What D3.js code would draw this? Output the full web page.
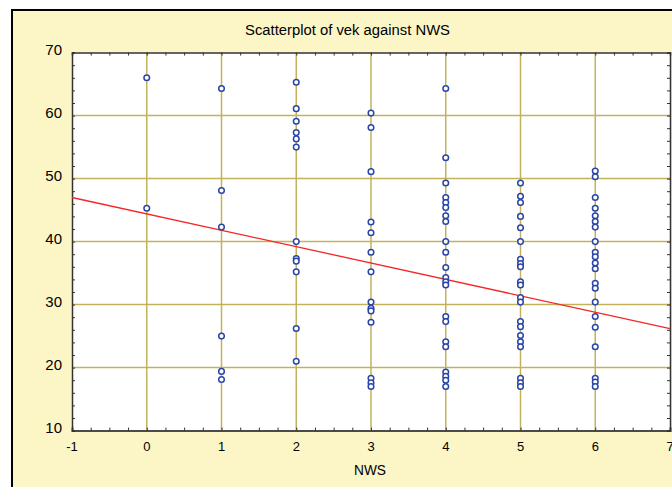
<!DOCTYPE html>
<html>
<head>
<meta charset="utf-8">
<script src="https://cdn.jsdelivr.net/npm/d3@7"></script>
<style>
  body { margin: 0; background: #fff; }
  svg { display: block; font-family: "Liberation Sans", Arial, sans-serif; }
</style>
</head>
<body>
<svg id="chart" width="672" height="487"></svg>
<script>
// values
const nwsLevels = [0, 1, 2, 3, 4, 5, 6];
const vek0 = [66, 45.3];
const vek1 = [64.3, 48.1, 42.3, 25, 19.4, 18.1];
const vek2 = [65.3, 61.1, 59.1, 57.3, 56.3, 55, 40, 37.3, 36.9, 35.2, 26.2, 21];
const vek3 = [60.4, 58.1, 51.1, 43.1, 41.4, 38.3, 35.2, 30.4, 29.4, 29, 27.2, 18.3, 17.6, 17];
const vek4 = [64.3, 53.3, 49.3, 47, 46.2, 45.4, 44.1, 43.2, 40, 38.3, 35.9, 34.3, 33.6, 33.1,
              28.1, 27.3, 24.1, 23.3, 19.3, 18.6, 18, 17];
const vek5 = [49.3, 47.2, 46.2, 44, 42.2, 40, 37.2, 36.5, 36, 33.6, 33.1, 31.1, 30.4,
              27.3, 26.5, 25.1, 24.1, 23.3, 18.3, 17.6, 17];
const vek6 = [51.2, 50.3, 47, 45.3, 44.1, 43.2, 42.3, 40, 38.3, 37.6, 36.6, 35.7, 33.4, 32.6,
              30.4, 28.1, 26.4, 23.3, 18.3, 17.7, 17];
const vekByNws = [vek0, vek1, vek2, vek3, vek4, vek5, vek6];
const fitLine = [{ nws: -1, vek: 47.0 }, { nws: 7, vek: 26.2 }];
const xTicks = [-1, 0, 1, 2, 3, 4, 5, 6, 7];
const yTicks = [10, 20, 30, 40, 50, 60, 70];

const points = [];
nwsLevels.forEach((n, i) => vekByNws[i].forEach((v) => points.push({ nws: n, vek: v })));

const svg = d3.select("#chart");

// panel with black frame
svg.append("rect")
  .attr("x", 12).attr("y", 10)
  .attr("width", 700).attr("height", 500)
  .attr("fill", "#fcf5c6")
  .attr("stroke", "#000")
  .attr("stroke-width", 2);

const pLeft = 72, pRight = 670, pTop = 52.6, pBottom = 430.6;

const xScale = d3.scaleLinear().domain([-1, 7]).range([pLeft, pRight]);
const yScale = d3.scaleLinear().domain([10, 70]).range([pBottom, pTop]);

// plot area
svg.append("rect")
  .attr("x", pLeft).attr("y", pTop)
  .attr("width", pRight - pLeft).attr("height", pBottom - pTop)
  .attr("fill", "#fff");

// grid
const grid = svg.append("g").attr("stroke", "#c2b35a").attr("stroke-width", 1.5);
grid.selectAll(".gx")
  .data(xTicks.slice(1, -1))
  .enter().append("line")
  .attr("x1", (d) => xScale(d)).attr("x2", (d) => xScale(d))
  .attr("y1", pTop).attr("y2", pBottom);
grid.selectAll(".gy")
  .data(yTicks.slice(1, -1))
  .enter().append("line")
  .attr("x1", pLeft).attr("x2", pRight)
  .attr("y1", (d) => yScale(d)).attr("y2", (d) => yScale(d));

// axes (inner ticks)
const xMinor = d3.range(-1, 7.01, 0.25);
const yMinor = d3.range(10, 70.01, 2);

svg.append("g")
  .attr("transform", `translate(0,${pBottom})`)
  .call(d3.axisTop(xScale).tickValues(xMinor).tickSize(3).tickFormat(""))
  .call((g) => g.select(".domain").attr("stroke", "#4a4a4a").attr("stroke-width", 2))
  .call((g) => g.selectAll(".tick line").attr("stroke", "#333"));

svg.append("g")
  .attr("transform", `translate(0,${pTop})`)
  .call(d3.axisBottom(xScale).tickValues(xMinor).tickSize(3).tickFormat(""))
  .call((g) => g.select(".domain").attr("stroke", "#333").attr("stroke-width", 1.5))
  .call((g) => g.selectAll(".tick line").attr("stroke", "#333"));

svg.append("g")
  .attr("transform", `translate(${pLeft},0)`)
  .call(d3.axisRight(yScale).tickValues(yMinor).tickSize(3).tickFormat(""))
  .call((g) => g.select(".domain").attr("stroke", "#333").attr("stroke-width", 1.5))
  .call((g) => g.selectAll(".tick line").attr("stroke", "#333"));

svg.append("g")
  .attr("transform", `translate(${pRight},0)`)
  .call(d3.axisLeft(yScale).tickValues(yMinor).tickSize(3).tickFormat(""))
  .call((g) => g.select(".domain").attr("stroke", "#333").attr("stroke-width", 1.5))
  .call((g) => g.selectAll(".tick line").attr("stroke", "#333"));

// tick labels
svg.append("g")
  .selectAll("text")
  .data(xTicks)
  .enter().append("text")
  .attr("x", (d) => xScale(d))
  .attr("y", 451)
  .attr("text-anchor", "middle")
  .attr("font-size", 13)
  .attr("fill", "#000")
  .text((d) => d);

svg.append("g")
  .selectAll("text")
  .data(yTicks)
  .enter().append("text")
  .attr("x", 62)
  .attr("y", (d) => yScale(d) + 2.5)
  .attr("text-anchor", "end")
  .attr("font-size", 15)
  .attr("fill", "#000")
  .text((d) => d);

// titles
svg.append("text")
  .attr("x", 245).attr("y", 35)
  .attr("font-size", 14)
  .attr("textLength", 205)
  .attr("lengthAdjust", "spacingAndGlyphs")
  .text("Scatterplot of vek against NWS");

svg.append("text")
  .attr("x", 354).attr("y", 475)
  .attr("font-size", 14)
  .attr("textLength", 32)
  .attr("lengthAdjust", "spacingAndGlyphs")
  .text("NWS");

// fitted line
const line = d3.line().x((d) => xScale(d.nws)).y((d) => yScale(d.vek));
svg.append("path")
  .datum(fitLine)
  .attr("d", line)
  .attr("fill", "none")
  .attr("stroke", "#f52525")
  .attr("stroke-width", 1.3);

// points
svg.append("g")
  .selectAll("circle")
  .data(points)
  .enter().append("circle")
  .attr("cx", (d) => xScale(d.nws))
  .attr("cy", (d) => yScale(d.vek))
  .attr("r", 2.8)
  .attr("fill", "#fff")
  .attr("stroke", "#2a45a8")
  .attr("stroke-width", 1.5);
</script>
</body>
</html>
